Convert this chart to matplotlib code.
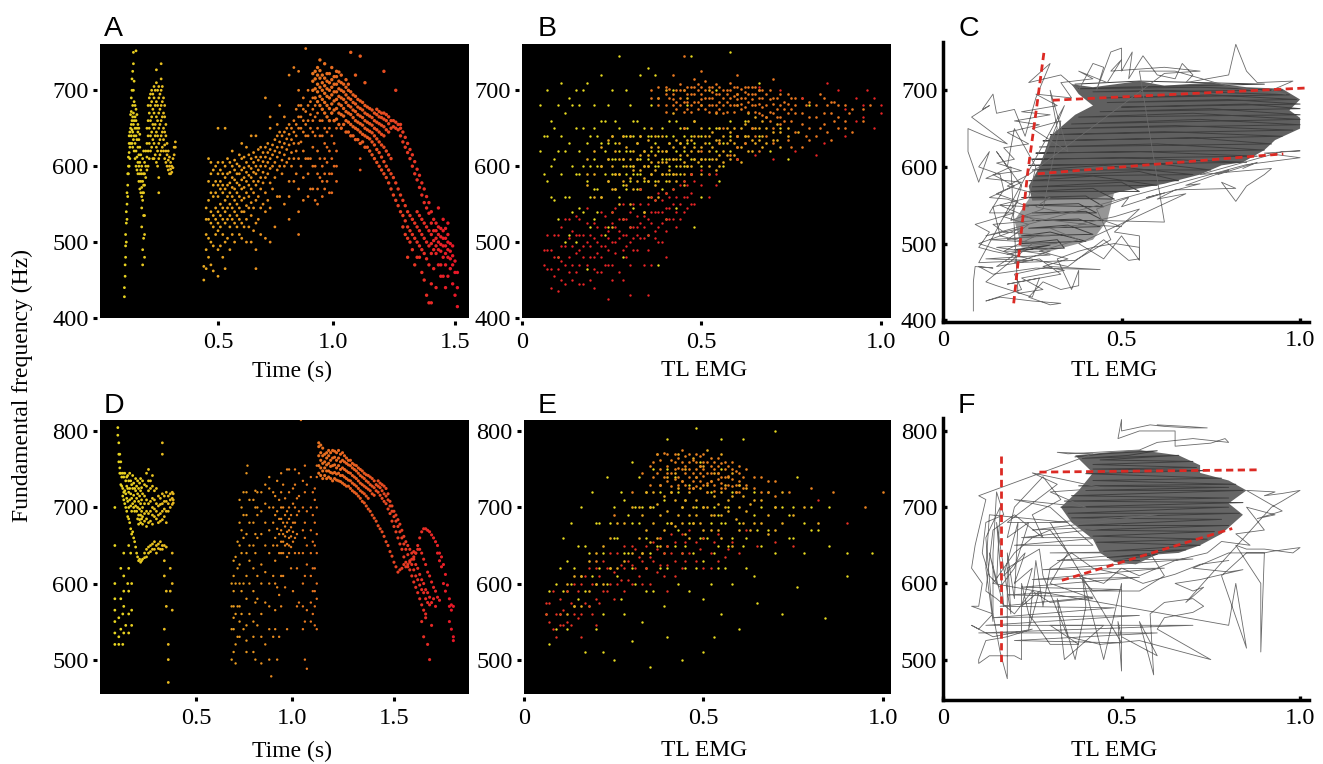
import matplotlib
matplotlib.use("Agg")
import matplotlib.pyplot as plt
from matplotlib.colors import LinearSegmentedColormap

W, H = 1323, 764

# All scatter values: {x value: [F0 values at that x]}
a_early = {.105:[428,440],.108:[455,470],.11:[480,495,510],.113:[500,525,540],.116:[530,550,565],.119:[560,575,590],.122:[590,600,612],
.125:[600,618,630,640],.128:[610,625,645],.131:[630,650,668],.134:[640,655,672,690],.137:[630,648,660,700,715],.14:[625,645,665,680,725],
.143:[635,655,670,700,735,750],.146:[620,640,660,685,712],.15:[610,630,650,665,680],.154:[600,620,640,660,675,752],.158:[595,612,635,650,668],
.162:[590,605,625,645,655],.166:[580,600,615,635,650],.17:[570,590,605,625,642],.174:[565,580,595,615],.178:[560,572,590,600,520,545],
.182:[555,565,580,610,470,490],.186:[565,575,590,620,505,535],.19:[480,510,535,575,590,605],.195:[585,600,620],.2:[595,612,630,650],
.205:[600,620,640,660,680],.21:[610,630,650,670,690],.215:[620,640,660,680,695],.22:[625,645,665,685,700],.225:[610,635,655,675,695],
.23:[610,630,650,670,690,705],.235:[615,640,655,680,700],.24:[605,625,645,665,685,710,727],.245:[600,620,640,660,680,700],.25:[565,585,610,630,650,670,690,705],
.255:[615,635,655,675,695],.26:[620,640,660,680,700,715,735],.265:[625,645,665,685,705],.27:[620,635,650,670,690],.275:[610,628,645,665,680],
.28:[605,620,640,655],.285:[600,615,630],.29:[595,608,620],.295:[590,600,612],.3:[590,596,605],.305:[592,600],.31:[598,610],.315:[615,625],.32:[625,632]}
a_mid = {.44:[450,468],.45:[465,490,510,530,545],.46:[480,505,530,555,580,610],.47:[470,500,525,540,565,590,605],.48:[462,495,520,535,560,575,595],
.49:[510,530,545,565,580,600],.5:[455,490,515,525,540,560,575,590,605,650],.51:[495,520,535,550,570,580,595],.52:[480,510,530,545,565,575,590,605],
.53:[465,500,525,540,555,570,585,600,650],.54:[505,530,545,560,575,590,610],.55:[490,520,535,550,565,578,592,605],.56:[510,530,545,560,572,585,600,620],
.57:[500,525,540,555,570,582,595,608],.58:[520,535,550,565,578,590,603],.59:[510,530,545,560,575,590,600,615],.6:[505,525,540,555,570,582,595,610,630],
.61:[520,540,558,572,585,598,612],.62:[500,530,548,565,580,592,605,625],.63:[520,545,560,575,588,600,615],.64:[500,535,552,570,585,597,610,640],
.65:[515,545,565,580,592,605,618],.66:[465,490,525,555,575,590,600,612,640],.67:[530,560,580,595,608,622],.68:[510,545,570,585,600,612,625],
.69:[550,578,592,606,618],.7:[505,540,565,585,600,612,625,690],.71:[555,590,605,618,630],.72:[500,545,578,597,610,622,650,665],.73:[570,600,615,628],
.74:[520,585,605,620,635],.75:[560,595,612,625,640,655],.76:[560,600,618,632,645,680],.77:[590,608,625,640],.78:[550,600,615,630,645,665],
.79:[605,622,636,650],.8:[530,560,580,610,628,642,655,720],.81:[600,618,635,650],.82:[580,610,630,645,660,730],.83:[590,620,640,655,675],
.84:[510,540,570,610,630,650,665,680,700,725],.85:[600,632,650,665,680],.86:[555,585,620,645,660,675,690],.87:[610,640,655,672,755],
.88:[560,590,610,640,660,680,700],.89:[570,610,650,668,685],.9:[570,600,625,645,660,675,690],.91:[555,600,640,665,680],.92:[550,570,590,620,650,670],
.93:[585,610,640,660],.94:[560,580,600,640,660],.95:[570,590,610,630,650],.96:[580,605,625,645],.97:[565,590,620,650],.98:[565,590,610,640,670],.99:[600,630,660],1.0:[580,600,620,650],1.1:[595,610,630]}
a_top = {.9:[700,712,722],.91:[690,702,715,725],.92:[685,698,708,720,730],.93:[680,692,704,716,726,740],.94:[675,688,700,710,720],.95:[670,684,696,706,716,735],
.96:[665,680,692,702,712,722],.97:[660,676,690,700,710,722],.98:[670,682,694,704,714,730],.99:[660,674,686,698,708,718],1.0:[662,676,688,698,708,718,725],
1.01:[655,670,682,692,702,712,724],1.02:[650,668,680,690,700,710,720],1.03:[655,666,676,688,698,708],1.04:[645,660,672,684,694,704,714],
1.05:[645,658,670,680,690,700,708],1.06:[640,655,668,678,688,698,750],1.07:[640,652,664,674,684,694],1.08:[635,650,660,672,682,692,720],
1.09:[635,648,658,668,678,688],1.1:[630,645,656,666,676,686,745],1.11:[632,642,654,664,674,684],1.12:[625,640,650,660,670,680,710],1.13:[625,638,648,658,668,678],
1.14:[620,636,646,656,666,676],1.15:[615,632,644,654,664,674],1.16:[610,628,640,650,660,670],1.17:[605,622,636,648,658,668,675],1.18:[600,618,632,645,656,665,672],
1.19:[595,612,628,642,654,664,670],1.2:[590,606,625,640,652,662,670,725],1.21:[585,600,620,648,660,668],1.22:[578,595,615,645,656,665],1.23:[570,590,610,650,660],
1.24:[562,585,652,660],1.25:[555,578,650,658,700],1.26:[548,570,648,655],1.27:[540,562,640,650,655],1.28:[535,555,520,632,645],1.29:[528,548,510,625,638],
1.3:[520,540,480,505,618,630],1.31:[515,535,500,610,622],1.32:[510,530,490,600,615],1.33:[505,525,470,590,606],1.34:[500,520,540,480,582,596],
1.35:[495,515,535,480,572,588],1.36:[490,510,530,460,562,578],1.37:[485,505,525,450,552,570],1.38:[478,500,520,430,545,560],1.39:[470,495,515,420,538,552],
1.4:[445,420,485,498,510,525,540],1.41:[465,490,502,515,530],1.42:[440,485,495,505,515,525],1.43:[470,490,500,510,520,545],1.44:[455,470,488,497,507,518],
1.45:[455,480,495,505,515,530],1.46:[440,470,485,495,505,518],1.47:[455,480,490,500,510,525],1.48:[465,478,488,498],1.49:[445,470,495,482],1.5:[430,460,475],1.51:[415,440,460]}

d_early = {.09:[520,535,550,565,580,600,650,700],.105:[805,795],.11:[785,770,760,530,555,520],.115:[770,752,745],.12:[760,745,730,540,580,620],.125:[740,728],
.13:[745,725,715,520,560],.135:[720,740,710,535,570,590,610,640],.14:[745,722,705],.145:[735,718,700,545],.15:[740,728,712,695],.155:[742,725,708,688,600],.16:[735,720,700,685,535,560,590,620,650],
.165:[745,725,710,680],.17:[735,718,702,672,640],.175:[730,712,695,665,545,565,600],.18:[742,725,705,668],.185:[732,716,700,660],.19:[725,708,695,655],.195:[738,722,702,648],
.2:[728,712,695,640],.205:[735,718,700,685,635],.21:[725,708,690,678,630],.215:[732,715,698,684,632],.22:[738,722,705,690,680,628],.225:[726,710,695,685,630],
.23:[735,718,700,688,678,632],.24:[730,715,705,692,682,640,634],.25:[745,728,710,695,685,675,645,635],.26:[750,735,722,705,692,680,640,648],.27:[735,725,708,695,682,650,642],
.28:[742,728,712,700,690,678,645,652],.29:[722,710,698,688,655,645],.3:[725,705,695,685,650,640],.31:[715,702,690,680,652,646],.32:[712,704,692,682,655,645],.33:[785,770,718,705,695,684,650,645],
.34:[715,708,698,688,650,630,610,540],.35:[720,708,695,680,648,590,570],.36:[715,705,695,520,500,470],.37:[718,710,700,620,590],.38:[720,712,704,640,600,565],.385:[718,710,706]}
d_mid = {.68:[500,540,570,600],.69:[510,540,555,570,590,610,630],.7:[495,520,560,600,635],.71:[530,570,620,655],.72:[530,550,570,600,625,650,680,710],.73:[560,590,640,670,700],
.74:[540,600,660,690,720],.755:[510,525,545,580,610,640,665,690,720,745],.77:[560,600,630,650,680,710],.79:[510,530,550,590,620,650,680,710],.8:[500,575,640,665,700,722],
.81:[545,580,610,660,690,700,720],.83:[495,530,560,600,625,665,695,720],.85:[520,575,615,650,680,705,730],.87:[500,540,570,600,640,670,700,725,740],.89:[530,610,650,680,700,720],
.9:[540,565,600,630,660,690,715],.91:[500,595,650,672,695,735],.92:[530,585,640,665,685,710],.93:[570,610,640,655,670,685,700,720,745],.94:[610,640,655,665,680,700,730],
.95:[595,650,662,675,690,712],.96:[540,635,652,668,680,695,750],.97:[640,650,660,670,685,700,720,750],.98:[620,648,662,674,690],.99:[590,655,668,680,705,725],1.0:[640,660,680,700,730,750],
1.01:[570,620,665,690,712],1.02:[575,640,695,715,745],1.04:[540,570,600,640,670,700,735],1.05:[500,550,610,660,680,720,755],1.06:[488,565,625,650,695,730],1.08:[550,575,610,640,670,700,740],
1.09:[560,590,620,655,690,720],1.1:[545,570,590,620,650,680,710,725],1.11:[540,580,600,640,665,700,740,755],1.03:[815],.88:[478],.76:[755]}
d_top = {1.12:[745,755,768,780,785],1.13:[742,752,762,772,782],1.14:[738,748,758,768,778],1.15:[742,752,760,770],1.16:[738,748,756,765,772],1.17:[740,748,758,768,775],
1.18:[738,746,754,762,772],1.19:[735,745,755,765,775],1.2:[738,746,756,766,774],1.21:[736,744,752,762,772],1.22:[735,745,755,765,775],1.23:[734,742,750,760,770],
1.24:[732,742,752,762,772],1.25:[730,740,750,760,768],1.26:[728,738,748,758,765],1.27:[728,736,746,756,762],1.28:[725,735,745,755,762],1.29:[722,732,742,752,758],
1.3:[720,730,740,750,756],1.31:[718,728,738,748,755],1.32:[715,725,735,745,752],1.33:[712,722,732,742,750],1.34:[708,720,730,740,748],1.35:[706,718,728,738,745],
1.36:[702,715,726,735,743],1.37:[698,712,724,733,742],1.38:[695,722,730,740],1.39:[690,718,728,738],1.4:[686,716,726,735],1.41:[682,722,730],1.42:[676,720,728,735],1.43:[672,716,726,732],
1.44:[668,712,722,730],1.45:[662,708,718,728],1.46:[655,705,715,725],1.47:[650,698,710,718],1.48:[642,692,702,708],1.49:[636,682,695,702],1.5:[628,675,688,695],1.51:[622,668,682,690],
1.52:[615,660,675,684],1.53:[618,652,668,678],1.54:[620,645,660,670],1.55:[625,635,652,662],1.56:[622,628,645,655],1.57:[625,622,638,650],1.58:[628,618,630,645],1.59:[632,610,625,640],
1.6:[635,602,618,632,642],1.61:[640,595,610,625,640],1.62:[645,588,605,620,650],1.63:[660,580,598,612,645],1.64:[668,572,592,605,640,550],1.65:[672,565,588,600,632,530],1.66:[672,560,580,592,625,555],
1.67:[670,575,588,615,520],1.68:[668,572,582,610,500],1.69:[664,575,602,545],1.7:[660,595,580],1.71:[655,590,570],1.72:[650,582,640],1.73:[640,578,630],1.74:[635,622],1.75:[625,600],1.76:[612,590],1.77:[598],1.78:[580,550,570],1.79:[565,572,540],1.8:[570,530,525]}

b_yellow = {.05:[620,680],.06:[640,590],.07:[700,580,640],.08:[600,660,560],.09:[555,650,610],.1:[680,480,530,620],.11:[590,710,640],.12:[620,500,560,670],.13:[560,630,510,690],.14:[680,600,540],
.15:[650,500,590,700],.16:[590,620,680,545],.17:[700,540,600,650],.18:[710,465,580,630],.19:[640,560,600,520],.2:[610,530,680,650,570],.21:[570,600,640,540],.22:[600,720,630,560,660],.23:[660,590,620,510],
.24:[630,520,680,580,610],.25:[590,700,540,640,610],.26:[610,570,660,630,590],.27:[650,745,590,620,560],.28:[575,480,640,610,600],.29:[620,700,590,570,640],.3:[600,680,520,640,620,580],.31:[640,545,600,590,660],
.32:[590,660,610,630,570],.33:[610,720,570,640,590],.34:[650,600,620,580,540],.35:[580,730,510,640,610,600],.36:[620,680,590,640,560],.37:[600,720,555,630,580],.38:[640,690,470,600,620],.39:[570,650,610,590],
.4:[610,530,580,640,620],.41:[630,600,590,660],.42:[590,640,700,610,570],.43:[660,545,620,600],.44:[610,650,590,630],.45:[700,600,640,620,580],.46:[630,680,600,650],.47:[590,745,610,640],.48:[520,610,660,630],
.5:[640,560,680,610,600],.52:[610,650,630,590],.54:[700,620,650],.55:[650,580,630],.56:[630,600],.58:[620,660,750,640],.6:[680,610,640],.62:[640,660],.63:[670],.66:[710,640],.69:[620],.72:[650],.74:[610],.8:[680]}
b_gold = {.18:[575,590,610],.2:[590,560,620],.22:[560,600,625],.24:[610,580,635],.25:[570,520,600,640],.26:[590,620,570],.27:[590,610,630,550],.28:[610,530,580,640],.29:[600,625,575],.3:[585,550,640,610],
.31:[570,595,620,600],.32:[610,630,580],.33:[595,615,570,640],.34:[540,620,600,585],.35:[600,560,635,580,615],.36:[590,650,605,625],.37:[615,575,595,640],.38:[580,625,605,560],.39:[605,590,640,620],
.4:[620,565,700,590,605],.41:[595,610,630,580],.42:[610,670,590,625],.43:[590,580,635,610],.44:[630,600,615],.45:[605,575,590,650,625],.46:[615,690,600,635],.47:[600,635,590,620],.48:[625,660,610,640],
.49:[640,605,620],.5:[610,590,625,650],.51:[630,610,640],.52:[620,700,600,640],.53:[645,625,610],.54:[610,670,635,595],.55:[635,600,615,650],.56:[620,640,605],.57:[650,630,615],.58:[635,610,645],
.59:[615,650,630],.6:[640,610,695,625],.61:[625,650,605],.62:[655,630,640],.63:[640,620,660],.64:[620,650,635],.65:[650,630,665],.66:[635,700,650],.67:[660,640,625],.68:[630,650,665],.7:[645,635],.71:[635,655],.72:[625,645],.74:[650,640],.77:[645]}
b_orange = {.36:[690,700],.38:[690,680,705],.4:[680,695,672,705],.41:[690,702],.42:[695,720,680,688],.43:[685,700,675],.44:[700,690,680,708],.45:[685,745,700,650,672],.46:[675,695,705,685],.47:[695,705,680,672],
.48:[705,685,695,715],.49:[685,700,675,708],.5:[695,725,620,680,688,705],.51:[675,700,690,712],.52:[690,680,705,672],.53:[705,690,680,698],.54:[680,695,708,672],.55:[695,630,685,705,675],.56:[670,650,690,700,680],
.57:[685,700,695,672],.58:[700,615,680,690,710],.59:[680,705,692,672],.6:[695,625,640,720,680,705,688],.61:[675,690,702,682],.62:[690,630,705,678,698],.63:[705,685,695,672],.64:[680,650,695,705,688],.65:[695,640,680,672,705],
.66:[670,620,690,700,682],.67:[690,678,700,668],.68:[680,640,695,665],.69:[700,672,688,660],.7:[670,630,650,715,690,682],.71:[690,675,665],.72:[680,655,695,665],.73:[660,685,675],.74:[695,635,670,682],.75:[675,625,690,660],
.76:[690,645,670,680],.78:[670,625,690,655],.79:[680,640],.8:[685,650,635,665],.82:[665,640,680],.83:[695,650],.84:[690,655,670],.85:[645,680],.86:[670,635,685],.87:[685,660],.88:[680,650,665],.9:[660,650,680],.91:[670],.92:[645,675],.95:[675,660],.97:[680]}
b_red = {.06:[470,490],.07:[490,465,510],.08:[465,490,440],.09:[510,480,455],.1:[480,510,435,465],.11:[450,495,475,520],.12:[495,470,445,530],.13:[530,480,505,460],.14:[470,495,515,450],.15:[510,460,485,535],
.16:[490,470,530,510,445],.17:[445,510,480,495],.18:[525,500,470,545],.19:[480,450,510,495],.2:[505,480,440,525,465],.21:[460,500,520,485],.22:[540,510,480,495,460],.23:[495,520,470,535],.24:[515,490,425,470,505],
.25:[470,500,525,540,450],.26:[500,520,485,545],.27:[530,460,505,515],.28:[450,490,510,530,550],.29:[510,530,480,495],.3:[540,500,430,520,470],.31:[490,520,550,505],.32:[520,490,535,510],.33:[550,525,505,570],
.34:[505,470,535,520],.35:[530,510,430,550,490],.36:[560,470,525,540],.37:[515,540,505,555],.38:[540,520,565,500],.39:[500,525,555,540],.4:[565,480,530,545,515],.41:[530,545,560],.42:[550,570,530],.43:[520,560,540],
.44:[575,550,530],.45:[540,560,580],.46:[560,575,545],.47:[590,565,550],.48:[550,580],.5:[575,595],.52:[560,590],.54:[590,575],.6:[610],.65:[615],.7:[610],.76:[620],.82:[615],.84:[630],.85:[710],.88:[700],.9:[640,675],.93:[690,660],.95:[665,680],.96:[700],.98:[650,690],1.0:[680,670],.78:[690],.72:[700],.66:[705]}

e_yellow = {.06:[560],.07:[520,590],.09:[600,540],.1:[560,620],.11:[660,590],.12:[540,590,630],.13:[680,600],.14:[620,570],.15:[580,650],.16:[700,610],.17:[510,650,590],.18:[640,570],.19:[720,610],.2:[600,540,680],
.21:[680,620],.22:[560,640,510],.23:[740,600],.24:[620,680],.25:[500,660,700],.26:[660,610],.27:[580,720],.28:[710,560,640],.29:[640,690],.3:[760,620,680,525],.31:[600,700],.32:[680,740],.33:[550,640,700],.34:[720,590,660],
.35:[640,490,700],.36:[590,700,750],.37:[770,650],.38:[660,620,720],.39:[710,570,640],.4:[620,530,680,790,750],.41:[680,720],.42:[740,650],.43:[600,670,720],.44:[700,500,640],.45:[650,620,710],.46:[730,590,680],.47:[680,640],
.48:[620,805,700],.49:[760,660],.5:[700,510,660,580,630],.51:[660,720],.52:[720,600,680],.53:[640,530,700],.54:[690,620,650],.55:[750,560,790,680],.56:[620,680],.57:[700,650],.58:[660,720,600],.6:[730,540,680],.61:[790,650],.62:[620,660],
.64:[690,720,610],.65:[575,670],.66:[650,700],.68:[720,670],.7:[640,700,800],.72:[700,560],.74:[690,660],.75:[660,700],.76:[740,595],.78:[640,680],.8:[700,670],.82:[670],.84:[555],.85:[650,700],.9:[640,610],.97:[640]}
e_gold = {.12:[600,560],.14:[570,610],.16:[610,570],.18:[590,630],.2:[640,600],.22:[600,650],.24:[660,620],.26:[620,680],.28:[680,630],.3:[640,700],.32:[700,660],.33:[690,640],.34:[670,620,720],.35:[700,655],.36:[720,680],.37:[705,660],
.38:[690,730,650],.39:[670,715],.4:[740,650,695],.41:[720,680],.42:[710,675,745],.43:[770,725,690],.44:[680,735,700],.45:[750,710,665],.46:[720,660,690],.47:[700,765,725,680],.48:[740,690,710],.49:[725,680,755],.5:[755,700,670],
.51:[700,775,730],.52:[735,670,690],.53:[715,690,745],.54:[745,705,670],.55:[690,770,720,660],.56:[730,700],.57:[710,695,740],.58:[745,650,715],.59:[720,685],.6:[700,730,670],.61:[680,715],.62:[725,695],.63:[705,670],.64:[680,710],.66:[710,680],.68:[690,665],.7:[670,700],.72:[720,680],.75:[690],.78:[700],.82:[680]}
e_orange = {.2:[630],.25:[690],.3:[720],.33:[745],.35:[730,755],.36:[760,740],.37:[745,770],.38:[750,730,762],.39:[740,772],.4:[770,755,735,745],.41:[745,762,728],.42:[760,770,738,750],.43:[740,730,765,752],.44:[775,750,760,735],
.45:[730,745,768,755],.46:[760,740,770,725,750],.47:[745,725,762,735],.48:[770,750,760,728,740],.49:[735,755,768,745],.5:[760,730,770,742,750],.51:[745,720,760,732],.52:[765,745,755,735],.53:[730,750,760,722],.54:[755,765,738,745],
.55:[740,725,758,732],.56:[760,740,750,725],.57:[730,755,742],.58:[750,760,728,738],.59:[730,748,720],.6:[735,745,755,720],.61:[740,725],.62:[750,730],.64:[725,740],.66:[740,720],.68:[720,735],.7:[735,715],.74:[720],.8:[725],.86:[720],.95:[700],1.0:[720]}
e_red = {.06:[560,575],.07:[575,550],.08:[540,590],.09:[560,530],.1:[580,545,560],.11:[565,545],.12:[550,590],.13:[575,545],.14:[600,560],.15:[590,555],.16:[560,530,600],.17:[575,610],.18:[620,570],.19:[600,560],.2:[580,545,620],.21:[610,575],
.22:[630,590],.23:[590,620],.24:[600,640],.25:[580,615],.26:[640,600],.27:[605,625],.28:[620,590,650],.29:[630,605],.3:[650,600,625],.31:[620,645],.32:[610,635],.33:[630,600],.34:[650,620],.35:[600,635],.36:[630,655],.37:[645,615],.38:[660,625],
.39:[640,610],.4:[625,650,590],.41:[640,665],.42:[655,610,630],.44:[640,665,620],.45:[655,630],.46:[670,640],.48:[630,655],.49:[645],.5:[660,620],.52:[640,620],.53:[655],.54:[665,630],.56:[635],.57:[645],.58:[655],.6:[640],.62:[670],.65:[650],.7:[655],.75:[650],.82:[710],.9:[680]}

# ---------- Panels C, F: traces of EMG vs F0 ----------
c_envelope = [(.36,708),(.42,704),(.55,712),(.62,706),(.75,710),(.85,704),(.95,702),(1.0,688),(.97,674),(1.0,664),(1.0,650),(.93,635),(.9,622),(.84,606),(.78,602),(.72,590),(.62,578),(.5,568),(.42,558),(.25,556),(.24,575),(.27,600),(.3,640),(.37,668),(.42,680),(.38,695)]
c_envelope_low = [(.25,565),(.48,568),(.46,530),(.42,505),(.3,490),(.22,495),(.2,530)]
f_envelope = [(.37,768),(.46,772),(.55,775),(.66,768),(.72,755),(.72,745),(.8,735),(.85,722),(.8,705),(.84,690),(.78,665),(.72,650),(.66,640),(.6,638),(.54,625),(.48,628),(.44,640),(.42,658),(.36,680),(.33,700),(.38,722),(.42,745)]

c_dense = [(.37,708),(.55,712),(.9,708),(.5,704),(.38,702),(.72,704),(.95,700),(.42,698),(.6,700),(.97,694),(.45,690),(.75,694),(.99,688),(.46,684),(.8,688),(1.0,682),(.5,678),(.85,682),(1.0,676),(.44,672),(.75,676),(1.0,668),(.38,665),(.7,670),(1.0,662),(.36,656),(.72,662),(1.0,655),(.33,650),(.65,654),(.98,648),(.3,642),(.62,646),(.95,640),(.28,634),(.7,638),(.92,630),(.27,626),(.6,630),(.9,622),(.26,618),(.55,620),(.88,614),(.25,610),(.5,612),(.85,606),(.24,602),(.6,604),(.75,596),(.25,596),(.45,602),(.7,590),(.26,588),(.55,594),(.66,582),(.24,582),(.42,588),(.6,576),(.25,574),(.5,580),(.55,568),(.24,568),(.42,572),(.48,558),(.22,560),(.4,562),(.45,548),(.23,550),(.38,552),(.43,540),(.25,540),(.4,542),(.45,530),(.25,530),(.38,532),(.44,522),(.24,520),(.35,524),(.42,512),(.22,510),(.3,515),(.4,503),(.22,500),(.32,505),(.34,494),(.2,492),(.3,498),(.18,486)]
c_thin = [(.085,412),(.085,450),(.09,470),(.14,468),(.1,470),(.14,460),(.26,468),(.44,466),(.3,470),(.2,460),(.22,440),(.12,425),(.16,430),(.25,425),(.33,422),(.3,420),(.24,430),(.28,450),(.33,440),(.38,445),(.38,465),(.36,440),(.32,480),(.38,490),(.42,495),(.48,500),(.55,495),(.55,480),(.52,478),(.45,505),(.35,470),
(.14,490),(.1,495),(.13,515),(.09,525),(.2,540),(.13,540),(.17,570),(.16,590),(.1,600),(.13,620),(.1,580),(.07,620),(.07,650),(.12,640),(.18,630),(.08,665),(.13,680),(.11,675),(.14,695),(.15,670),(.2,675),(.23,640),(.26,690),(.3,735),(.24,710),(.33,720),(.38,700),(.42,735),(.45,730),(.43,700),(.47,750),(.5,755),(.5,725),(.53,750),(.52,715),(.56,745),(.6,720),(.65,715),(.67,735),(.7,720),(.68,710),(.8,720),(.82,760),(.85,725),(.88,710),(.98,712),(.92,700),(.96,695),(.8,705),(.65,725),(.55,725),
(.62,528),(.45,530),(.5,522),(.38,525),(.48,535),(.55,545),(.48,515),(.55,510),(.55,478),(.5,510),(.45,480),(.38,500),
(.68,565),(.6,558),(.65,570),(.82,572),(.78,580),(.82,555),(.85,575),(.9,590),(.92,598),(.72,590),(.95,620),(1.0,621),(.9,618),(1.0,612),(.85,603),
(.12,510),(.22,520),(.1,500),(.2,485),(.15,470),(.27,480),(.33,460),(.18,447),(.27,455),(.25,430),(.15,445),(.12,450),(.25,500),(.16,510),(.14,548),(.24,560),(.26,600),(.2,650),(.18,600),(.15,620),(.22,575),(.19,530),(.28,545),(.33,660),(.25,650),(.35,620),(.3,700),(.32,650),(.28,610),(.34,680),
(.1,475),(.25,478),(.12,480),(.3,485),(.15,495),(.32,500),(.13,505),(.3,510),(.17,515),(.14,525),(.26,530),(.16,550),(.24,548),(.18,558),(.13,560),(.2,575),(.14,590),(.22,595),(.15,605),(.2,610),(.17,625),(.24,630),(.18,645),(.27,655),(.2,660),(.3,668),(.22,672),(.32,680),(.26,695),(.36,690),(.33,710),(.42,715),(.38,725),(.46,710),(.5,740),(.47,725),(.62,730),(.72,725),(.62,722),
(.24,590),(.18,575),(.3,560),(.26,548),(.34,540),(.22,535),(.4,525),(.3,520),(.38,505),(.27,490),(.35,480),(.28,470),(.34,465),(.22,455),(.28,440),(.21,435),
(.19,600),(.12,585),(.22,580),(.15,565),(.21,555),(.17,535),(.24,525),(.18,505),(.26,510),(.17,490),(.3,490),(.2,475),(.37,478),(.47,505),(.43,545),(.52,560),(.5,548),(.62,566),(.57,560),(.72,578),(.68,576),(.8,596),(.77,590),(.88,606),(.84,598)]

f_dense = [(.37,766),(.45,770),(.6,774),(.52,768),(.39,764),(.66,768),(.44,762),(.7,760),(.42,756),(.71,752),(.42,750),(.74,748),(.4,744),(.78,738),(.42,735),(.82,730),(.38,728),(.8,726),(.4,722),(.84,722),(.36,715),(.8,712),(.34,708),(.84,706),(.33,700),(.8,700),(.35,692),(.83,692),(.36,686),(.78,684),(.38,676),(.8,676),(.4,670),(.76,668),(.42,662),(.74,658),(.43,654),(.72,650),(.45,642),(.68,644),(.46,634),(.6,638),(.48,630),(.55,630)]
f_thin = [(.6,808),(.68,806),(.74,804),(.69,804),(.62,806),(.58,808),(.5,800),(.5,815),(.49,790),(.55,800),(.65,800),(.65,780),(.75,784),(.79,790),(.8,785),(.7,790),(.6,785),(.55,775),(.35,770),(.32,772),(.42,770),
(.1,715),(.12,710),(.11,690),(.09,650),(.08,620),(.11,600),(.1,570),(.08,570),(.14,560),(.1,540),(.08,545),(.14,530),(.25,540),(.18,530),(.12,525),(.1,500),(.1,495),(.13,505),(.2,505),(.22,500),(.22,540),(.22,600),(.24,560),(.3,520),(.38,520),(.3,545),(.45,545),(.34,500),(.32,580),(.37,500),(.4,570),(.39,610),(.45,500),(.5,600),(.5,485),(.49,550),(.5,530),(.6,505),(.55,550),(.59,480),(.58,560),(.62,575),(.7,580),(.73,570),(.7,562),(.62,555),(.6,540),(.75,500),(.55,525),(.44,520),(.35,530),(.28,610),(.27,645),(.18,620),(.18,475),(.16,510),(.14,560),(.14,640),(.15,720),(.17,690),(.12,680),(.11,640),(.13,610),(.16,595),(.2,620),(.22,650),(.24,680),(.18,660),(.2,700),(.24,720),(.28,740),(.33,710),(.25,690),(.28,660),(.2,690),(.14,670),(.12,590),(.15,580),(.2,560),(.25,590),(.3,575),(.36,578),(.42,580),(.3,600),(.35,640),(.3,670),(.25,660),(.2,640),(.14,600),
(.8,545),(.82,600),(.85,515),(.78,610),(.85,640),(.9,640),(.92,642),(1.0,647),(.98,640),(.9,645),(.85,645),(.82,650),(.89,600),(.89,510),(.9,640),(.8,640),(.7,620),(.8,615),(.84,618),(.72,605),(.65,600),(.7,590),(.73,595),(.68,575),
(.92,700),(.95,708),(1.0,722),(.95,718),(.9,715),(.93,720),(.85,722),(.95,695),(.88,685),(.93,690),(.85,700),(.9,670),(.82,665),(.86,650),(.78,655),(.74,640),(.65,630),(.55,610),(.5,620),(.45,600),(.38,610),(.42,590),(.55,590),(.62,610),(.58,640),
(.3,640),(.6,642),(.32,630),(.7,632),(.28,618),(.62,620),(.25,605),(.55,608),(.22,595),(.5,592),(.18,585),(.42,582),(.16,570),(.48,568),(.14,555),(.55,558),(.12,545),(.7,545),(.1,535),(.6,535),(.2,525),(.5,522),(.3,680),(.6,690),(.25,670),(.5,675),(.22,660),(.45,660),(.2,650),(.42,650),(.3,700),(.2,710),(.4,700),(.3,720),(.45,725),(.25,745),(.32,730),(.18,680),(.35,680),
(.13,690),(.12,620),(.14,550),(.12,660),(.16,700),(.15,600),(.13,640),(.17,570),(.15,680),(.19,560),(.18,640),(.2,580),(.21,680),(.17,610),(.23,640),(.2,600),(.25,620),(.22,570),(.27,590),(.24,540),(.26,630),(.28,570),(.3,620),(.36,640),(.42,620),(.5,612),(.56,600),(.65,612),(.72,625),(.8,630)]

# ---------- Red dashed fits and tick labels ----------
c_fit_steep = [(.198,422),(.237,592),(.26,670),(.284,754)]
c_fit_low = [(.265,591),(.953,617)]
c_fit_high = [(.307,687),(1.018,703)]
f_fit_steep = [(.163,767),(.163,497)]
f_fit_high = [(.27,746),(.884,749)]
f_fit_low = [(.333,604),(.81,672)]

top_yticks = [400, 500, 600, 700]
bottom_yticks = [500, 600, 700, 800]
emg_ticks = [0, .5, 1.0]
emg_labels = ["0", "0.5", "1.0"]
a_time_ticks = [.5, .984, 1.5]
d_time_ticks = [.5, .985, 1.5]
time_labels = ["0.5", "1.0", "1.5"]

plt.rcParams["font.family"] = ["Liberation Serif", "DejaVu Serif"]
fig = plt.figure(figsize=(W/100, H/100), dpi=100, facecolor="white")
cmap = LinearSegmentedColormap.from_list("song", ["#e8e020", "#e8b020", "#e88a20", "#e85a20", "#e81828"])

def axes_px(l, t, r, b):
    return fig.add_axes([l/W, 1-b/H, (r-l)/W, (b-t)/H])

def style_black(ax, xlim, ylim, xticks, xlabels, yticks):
    ax.set_facecolor("black")
    ax.set_xlim(*xlim); ax.set_ylim(*ylim)
    for s in ax.spines.values():
        s.set_visible(False)
    ax.spines["left"].set_position(("outward", 2.5))
    ax.spines["bottom"].set_position(("outward", 2.5))
    ax.set_xticks(xticks, xlabels); ax.set_yticks(yticks)
    ax.tick_params(length=2.6, width=2.2, color="black", labelsize=17.6)
    ax.tick_params(axis="y", pad=3)
    ax.tick_params(axis="x", pad=5)

def style_white(ax, xlim, ylim, yticks):
    ax.set_xlim(*xlim); ax.set_ylim(*ylim)
    ax.spines["top"].set_visible(False); ax.spines["right"].set_visible(False)
    ax.spines["left"].set_linewidth(2.5); ax.spines["bottom"].set_linewidth(2.5)
    ax.set_xticks(emg_ticks, emg_labels); ax.set_yticks(yticks)
    ax.tick_params(direction="in", length=3, width=2.4, labelsize=17.6)
    ax.tick_params(axis="x", pad=6)
    ax.tick_params(axis="y", pad=4)

def unpack(cols):
    return [x for x, fs in cols.items() for _ in fs], [f for fs in cols.values() for f in fs]

def time_scatter(ax, cols, size, tmax):
    ts, fs = unpack(cols)
    ax.scatter(ts, fs, c=[t/tmax for t in ts], cmap=cmap, vmin=0, vmax=1, s=size, linewidths=0, zorder=3)

def group_scatter(ax, cols, colour, size):
    xs, fs = unpack(cols)
    ax.scatter(xs, fs, color=cmap(colour), s=size, linewidths=0, zorder=3)

def trace(ax, pts, lw, colour, alpha=1.0):
    ax.plot([p[0] for p in pts], [p[1] for p in pts], color=colour, lw=lw, alpha=alpha, solid_joinstyle="round", zorder=3)

def envelope(ax, pts, colour, alpha=1.0):
    ax.fill([p[0] for p in pts], [p[1] for p in pts], color=colour, alpha=alpha, lw=0, zorder=2)

def fit(ax, pts):
    ax.plot([p[0] for p in pts], [p[1] for p in pts], color="#dc2a24", lw=2.0, ls=(0, (2.6, 1.6)), zorder=5)

# A
axA = axes_px(100, 44, 469, 318)
style_black(axA, (.002, 1.559), (403, 761), a_time_ticks, time_labels, top_yticks)
time_scatter(axA, a_early, 4, 1.5); time_scatter(axA, a_mid, 4, 1.5); time_scatter(axA, a_top, 6, 1.5)
# B
axB = axes_px(522, 44, 891, 318)
style_black(axB, (0, 1.028), (403, 761), emg_ticks, emg_labels, top_yticks)
group_scatter(axB, b_yellow, .03, 3); group_scatter(axB, b_gold, .3, 3.5)
group_scatter(axB, b_orange, .6, 3.5); group_scatter(axB, b_red, .95, 3)
# C
axC = axes_px(943, 42, 1309, 322)
style_white(axC, (0, 1.025), (397.6, 763), top_yticks)
envelope(axC, c_envelope, "#606060"); envelope(axC, c_envelope_low, "#6a6a6a", .7)
trace(axC, c_dense, .7, "#3f3f3f"); trace(axC, c_thin, .6, "#6a6a6a")
fit(axC, c_fit_steep); fit(axC, c_fit_low); fit(axC, c_fit_high)
# D
axD = axes_px(100, 420, 469, 694)
style_black(axD, (.015, 1.879), (454.8, 815), d_time_ticks, time_labels, bottom_yticks)
time_scatter(axD, d_early, 4, 1.8); time_scatter(axD, d_mid, 3, 1.8); time_scatter(axD, d_top, 5, 1.8)
# E
axE = axes_px(524, 420, 891, 694)
style_black(axE, (0, 1.023), (454.8, 815), emg_ticks, emg_labels, bottom_yticks)
group_scatter(axE, e_yellow, .03, 3); group_scatter(axE, e_gold, .3, 3.5)
group_scatter(axE, e_orange, .55, 3.5); group_scatter(axE, e_red, .9, 3)
# F
axF = axes_px(943, 418, 1309, 700)
style_white(axF, (0, 1.025), (447, 817), bottom_yticks)
envelope(axF, f_envelope, "#666666")
trace(axF, f_dense, .7, "#3f3f3f"); trace(axF, f_thin, .6, "#6a6a6a")
fit(axF, f_fit_steep); fit(axF, f_fit_high); fit(axF, f_fit_low)

for letter, px, py in [("A",104,36),("B",538,36),("C",958,36),("D",104,413),("E",538,413),("F",958,413)]:
    fig.text(px/W, 1-py/H, letter, fontsize=20.5, family=["Liberation Sans"], va="baseline", ha="left")
for text, px, py in [("Time (s)",292,371),("TL EMG",704,371),("TL EMG",1114,371),("Time (s)",292,751),("TL EMG",704,751),("TL EMG",1114,751)]:
    fig.text(px/W, 1-py/H, text, fontsize=17, va="center", ha="center")
fig.text(22/W, 1-386/H, "Fundamental frequency (Hz)", rotation=90, fontsize=17, va="center", ha="center")

fig.savefig("out.png", dpi=100, facecolor="white")
